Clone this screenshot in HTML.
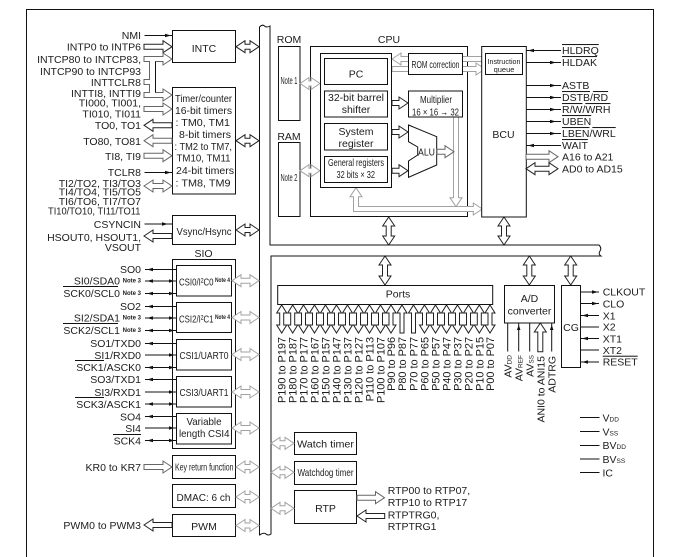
<!DOCTYPE html>
<html><head><meta charset="utf-8"><style>
html,body{margin:0;padding:0;background:#fff}
svg{display:block}
text{font-family:"Liberation Sans",sans-serif;font-size:10.5px;fill:#1c1c1c}
.e{text-anchor:end}.c{text-anchor:middle}
.n{font-size:6px;font-weight:bold;text-anchor:end}
.o{text-decoration:overline}
.p{font-size:10.9px;text-anchor:end}
.b{fill:#fff;stroke:#111;stroke-width:1}
.k{fill:#fff;stroke:#222;stroke-width:1}
.g{fill:#fff;stroke:#a2a2a2;stroke-width:1}
.m{fill:#fff;stroke:#666;stroke-width:1}
.l{stroke:#111;stroke-width:1;fill:none}
.h{fill:#111;stroke:none}
.s{font-size:6.5px}
</style></head><body>
<svg width="680" height="557" viewBox="0 0 680 557" xmlns="http://www.w3.org/2000/svg">
<rect width="680" height="557" fill="#fff"/>
<path class="l" d="M26.5 557V9.5H653.5V557"/>
<path class="b" d="M259.5 535V27q3-3 5-1t5.5 0V245H599q3 3 1 6t1 5H271V534q-3 2-5 0t-6.500 1z"/>

<!-- Left blocks -->
<rect class="b" x="172.500" y="30.500" width="63" height="32"/>
<rect class="b" x="172.500" y="87.500" width="63" height="106.500"/>
<rect class="b" x="172.500" y="215.500" width="63" height="29"/>
<rect class="b" x="172.500" y="259.500" width="63" height="189"/>
<rect class="b" x="176.500" y="265.500" width="55" height="30.500"/>
<rect class="b" x="176.500" y="302.500" width="55" height="30"/>
<rect class="b" x="176.500" y="339.500" width="55" height="30.500"/>
<rect class="b" x="176.500" y="376.500" width="55" height="30.500"/>
<rect class="b" x="176.500" y="413.500" width="55" height="30.500"/>
<rect class="b" x="172.500" y="455.500" width="63" height="23"/>
<rect class="b" x="172.500" y="484.500" width="63" height="23"/>
<rect class="b" x="172.500" y="514.500" width="63" height="22"/>

<!-- Left labels -->
<text class="e" x="141" y="39">NMI</text>
<text class="e" x="141" y="50.500">INTP0 to INTP6</text>
<text class="e" x="141" y="63">INTCP80 to INTCP83,</text>
<text class="e" x="141" y="75">INTCP90 to INTCP93</text>
<text class="e" x="141" y="86">INTTCLR8</text>
<text class="e" x="141" y="97">INTTI8, INTTI9</text>
<text class="e" x="141" y="106.500">TI000, TI001,</text>
<text class="e" x="141" y="117.500">TI010, TI011</text>
<text class="e" x="141" y="129">TO0, TO1</text>
<text class="e" x="141" y="145">TO80, TO81</text>
<text class="e" x="141" y="160">TI8, TI9</text>
<text class="e" x="141" y="176">TCLR8</text>
<text class="e" x="141" y="187">TI2/TO2, TI3/TO3</text>
<text class="e" x="141" y="195.500">TI4/TO4, TI5/TO5</text>
<text class="e" x="141" y="205">TI6/TO6, TI7/TO7</text>
<text x="48" y="214.500" textLength="92.500" lengthAdjust="spacingAndGlyphs">TI10/TO10, TI11/TO11</text>
<text class="e" x="141" y="228">CSYNCIN</text>
<text class="e" x="141" y="241">HSOUT0, HSOUT1,</text>
<text class="e" x="141" y="251">VSOUT</text>
<text class="c" x="203.500" y="257">SIO</text>
<text class="e" x="141" y="273">SO0</text>
<text class="e" x="120" y="284.500">SI0/SDA0</text><text class="n" x="141" y="282.500">Note 3</text>
<text class="e" x="120" y="297">SCK0/SCL0</text><text class="n" x="141" y="295">Note 3</text>
<text class="e" x="141" y="310">SO2</text>
<text class="e" x="120" y="321.500">SI2/SDA1</text><text class="n" x="141" y="319.500">Note 3</text>
<text class="e" x="120" y="334">SCK2/SCL1</text><text class="n" x="141" y="332">Note 3</text>
<text class="e" x="141" y="347">SO1/TXD0</text>
<text class="e" x="141" y="359">SI1/RXD0</text>
<text class="e" x="141" y="371">SCK1/ASCK0</text>
<text class="e" x="141" y="383">SO3/TXD1</text>
<text class="e" x="141" y="396">SI3/RXD1</text>
<text class="e" x="141" y="408">SCK3/ASCK1</text>
<text class="e" x="141" y="420.500">SO4</text>
<text class="e" x="141" y="432">SI4</text>
<text class="e" x="141" y="444.500">SCK4</text>
<text class="e" x="141" y="471">KR0 to KR7</text>
<text class="e" x="141" y="529">PWM0 to PWM3</text>
<path class="l" d="M63 286.500H118M63 323.500H118M75 360.500H104M75 397.500H104M113 434.500H141"/>

<!-- Left block text -->
<text class="c" x="204" y="52">INTC</text>
<text x="175" y="102" textLength="57" lengthAdjust="spacingAndGlyphs">Timer/counter</text>
<text x="175" y="114" textLength="57" lengthAdjust="spacingAndGlyphs">16-bit timers</text>
<text x="175.500" y="126" textLength="54.500" lengthAdjust="spacingAndGlyphs">: TM0, TM1</text>
<text x="179" y="138" textLength="52" lengthAdjust="spacingAndGlyphs">8-bit timers</text>
<text x="174.500" y="150" textLength="57.500" lengthAdjust="spacingAndGlyphs">: TM2 to TM7,</text>
<text x="176.500" y="161.700" textLength="54" lengthAdjust="spacingAndGlyphs">TM10, TM11</text>
<text x="176" y="174" textLength="58" lengthAdjust="spacingAndGlyphs">24-bit timers</text>
<text x="175.500" y="186.300" textLength="55" lengthAdjust="spacingAndGlyphs">: TM8, TM9</text>
<text x="176.500" y="235" textLength="55" lengthAdjust="spacingAndGlyphs">Vsync/Hsync</text>
<text x="179" y="285.500" textLength="34.500" lengthAdjust="spacingAndGlyphs">CSI0/I²C0</text><text class="n" x="230" y="282" textLength="15" lengthAdjust="spacingAndGlyphs">Note 4</text>
<text x="179" y="322.500" textLength="34.500" lengthAdjust="spacingAndGlyphs">CSI2/I²C1</text><text class="n" x="230" y="319" textLength="15" lengthAdjust="spacingAndGlyphs">Note 4</text>
<text x="179.500" y="359" textLength="49" lengthAdjust="spacingAndGlyphs">CSI1/UART0</text>
<text x="179.500" y="396" textLength="49" lengthAdjust="spacingAndGlyphs">CSI3/UART1</text>
<text x="186.500" y="425" textLength="35" lengthAdjust="spacingAndGlyphs">Variable</text>
<text x="179" y="437" textLength="50.500" lengthAdjust="spacingAndGlyphs">length CSI4</text>
<text x="175" y="470.500" textLength="58.500" lengthAdjust="spacingAndGlyphs">Key return function</text>
<text x="176.500" y="501" textLength="54" lengthAdjust="spacingAndGlyphs">DMAC: 6 ch</text>
<text class="c" x="204" y="530">PWM</text>

<!-- Left single lines -->
<path class="l" d="M144.500 35.500H172.500M144.500 172.500H172.500M144.500 224H172.500M145 269.500H176.500M145 281H176.500M145 293.500H176.500M145 306.500H176.500M145 318H176.500M145 330.500H176.500M145 343.500H176.500M145 355H176.500M145 367.500H176.500M145 379.500H176.500M145 392H176.500M145 404H176.500M145 416.500H176.500M145 428H176.500M145 440.500H176.500"/>
<path class="h" d="M171 35.500l-6-1.800v3.600zM168 224l-6-1.800v3.600zM171 172.500l-6-1.800v3.600z"/>
<path class="h" d="M147 269.500l6-1.800v3.600zM147 281l6-1.800v3.600zM147 293.500l6-1.800v3.600zM147 306.500l6-1.800v3.600zM147 318l6-1.800v3.600zM147 330.500l6-1.800v3.600zM147 343.500l6-1.800v3.600zM147 367.500l6-1.800v3.600zM147 379.500l6-1.800v3.600zM147 404l6-1.800v3.600zM147 416.500l6-1.800v3.600zM147 440.500l6-1.800v3.600z"/>
<path class="h" d="M174 281l-5-1.800v3.600zM174 293.500l-5-1.800v3.600zM174 318l-5-1.800v3.600zM174 330.500l-5-1.800v3.600zM174 355l-5-1.800v3.600zM174 367.500l-5-1.800v3.600zM174 392l-5-1.800v3.600zM174 404l-5-1.800v3.600zM174 428l-5-1.800v3.600zM174 440.500l-5-1.800v3.600z"/>

<!-- Left thick arrows -->
<path class="k" d="M144 44.200H163V40.700L172 46.700L163 52.700V49.200H144z"/>
<path class="m" d="M144 106.500H163V103L172 109L163 115V111.500H144z"/>
<path class="k" d="M172 122.800H153V119.300L144 125.300L153 131.300V127.800H172z"/>
<path class="m" d="M172 138.200H153V134.700L144 140.700L153 146.700V143.200H172z"/>
<path class="m" d="M144 153.200H163V149.700L172 155.700L163 161.700V158.200H144z"/>
<path class="m" d="M144 186l9-6v3.500h10v-3.500l9 6l-9 6v-3.500h-10v3.500z"/>
<path class="k" d="M172 233.500H153V230L144 236L153 242V238.500H172z"/>
<path class="m" d="M144 464.500H163V461L172 467L163 473V469.500H144z"/>
<path class="k" d="M172 522.500H153V519L144 525L153 531V527.500H172z"/>
<!-- fork -->
<path class="m" d="M144 56.500H163V53L172 59L163 65V61.500H155.500V92.500H163V89L172 95L163 101V97.500H144V92.500H149.500V84.500H144V79.500H149.500V61.500H144z"/>
<path class="l" d="M155.500 61.500V92.500"/>

<!-- Left-to-bus arrows -->
<path class="k" d="M236 46.700l9-6v3.500h5v-3.500l9 6l-9 6v-3.500h-5v3.500z"/>
<path class="k" d="M236 140.700l9-6v3.500h5v-3.500l9 6l-9 6v-3.500h-5v3.500z"/>
<path class="k" d="M236 230l9-6v3.500h5v-3.500l9 6l-9 6v-3.500h-5v3.500z"/>
<path class="g" d="M232 280.700l9-6v3.500h9v-3.500l9 6l-9 6v-3.500h-9v3.500z"/>
<path class="g" d="M232 317.500l9-6v3.500h9v-3.500l9 6l-9 6v-3.500h-9v3.500z"/>
<path class="g" d="M232 354.500l9-6v3.500h9v-3.500l9 6l-9 6v-3.500h-9v3.500z"/>
<path class="g" d="M232 392l9-6v3.500h9v-3.500l9 6l-9 6v-3.500h-9v3.500z"/>
<path class="g" d="M232 428l9-6v3.500h9v-3.500l9 6l-9 6v-3.500h-9v3.500z"/>
<path class="g" d="M236 467l9-6v3.500h5v-3.500l9 6l-9 6v-3.500h-5v3.500z"/>
<path class="g" d="M236 497l9-6v3.500h5v-3.500l9 6l-9 6v-3.500h-5v3.500z"/>
<path class="g" d="M236 525.500l9-6v3.500h5v-3.500l9 6l-9 6v-3.500h-5v3.500z"/>

<!-- Memory -->
<text class="c" x="289" y="43">ROM</text>
<rect class="b" x="278.500" y="46.500" width="21.500" height="74"/>
<text x="280.500" y="84" textLength="17" lengthAdjust="spacingAndGlyphs">Note 1</text>
<text class="c" x="289" y="140">RAM</text>
<rect class="b" x="278.500" y="142.500" width="21.500" height="74"/>
<text x="280.500" y="181" textLength="17" lengthAdjust="spacingAndGlyphs">Note 2</text>

<!-- CPU -->
<text class="c" x="389" y="43">CPU</text>
<rect class="b" x="310.500" y="46.500" width="157" height="170"/>
<path class="g" d="M300 83.500l9-6v3.500h2v-3.500l9 6l-9 6v-3.500h-2v3.500z"/>
<path class="g" d="M300 170.700l9-6v3.500h2v-3.500l9 6l-9 6v-3.500h-2v3.500z"/>
<!-- grey routes -->
<path class="g" d="M392 66.500H476V63L485 69L476 75V71.500H392z"/>
<path class="g" d="M461 56.500H486V61.500H461z"/>
<path class="g" d="M453.500 117V197.700H450L456 206.700L462 197.700H458.500V117z"/>
<path class="g" d="M356 187.700l6 9h-3.500v9.800H473.300V203L482.300 209L473.300 215V211.500H353.500V196.700H350z"/>
<path class="g" d="M392 59l9-6v3.500h8v5h-8v3.500z"/>

<rect class="b" x="320.500" y="53.500" width="71" height="134"/>
<rect class="b" x="324.500" y="58.500" width="63" height="26"/><text class="c" x="356" y="77.500">PC</text>
<rect class="b" x="324.500" y="91" width="63" height="26"/><text class="c" x="356" y="101">32-bit barrel</text><text class="c" x="356" y="113">shifter</text>
<rect class="b" x="324.500" y="123.500" width="63" height="26.500"/><text class="c" x="356" y="135">System</text><text class="c" x="356" y="147">register</text>
<rect class="b" x="324.500" y="156.500" width="63" height="26"/>
<text x="328" y="166" textLength="56" lengthAdjust="spacingAndGlyphs">General registers</text>
<text x="336.500" y="178" textLength="38.500" lengthAdjust="spacingAndGlyphs">32 bits × 32</text>

<rect class="b" x="408.500" y="53.500" width="54" height="21"/>
<text x="411.500" y="68" textLength="48" lengthAdjust="spacingAndGlyphs">ROM correction</text>
<rect class="b" x="408.500" y="91" width="54" height="26"/>
<text x="420" y="103" textLength="32" lengthAdjust="spacingAndGlyphs">Multiplier</text>
<text x="412" y="115.500" textLength="47" lengthAdjust="spacingAndGlyphs">16 × 16 → 32</text>
<path class="b" d="M408.500 125L436.700 136.700V165L408.500 177.300V161L417.700 155V147L408.500 141.700z"/>
<text x="418" y="155.700" textLength="17" lengthAdjust="spacingAndGlyphs">ALU</text>
<path class="k" d="M392 100.500H399V97L408 103L399 109V105.500H392z"/>
<path class="k" d="M392 129.500H399V126L408 132L399 138V134.500H392z"/>
<path class="k" d="M392 168.200H399V164.700L408 170.700L399 176.700V173.200H392z"/>
<path class="m" d="M437 149.200H445V145.700L454 151.700L445 157.700V154.200H437z"/>
<path class="k" d="M388.700 217l6 9h-3.500v10h3.500l-6 9l-6-9h3.500v-10h-3.500z"/>

<!-- BCU -->
<rect class="b" x="481.700" y="46.500" width="44.600" height="170.500"/>
<rect class="b" x="485.500" y="53.500" width="37" height="21"/>
<text x="487.500" y="64" font-size="7" style="font-size:7.500px" textLength="33" lengthAdjust="spacingAndGlyphs">Instruction</text>
<text class="c" x="504" y="72" style="font-size:7.500px">queue</text>
<text class="c" x="503.500" y="138">BCU</text>
<path class="k" d="M504 217l6 9h-3.500v10h3.500l-6 9l-6-9h3.500v-10h-3.500z"/>
<path class="l" d="M526 50.500H561M526 62.500H561M526 85.500H561M526 97.500H561M526 109.500H561M526 121.500H561M526 133.500H561M526 145.500H561"/>
<path class="h" d="M528 50.500l6-1.800v3.600zM528 145.500l6-1.800v3.600zM556 62.500l-6-1.800v3.600zM556 85.500l-6-1.800v3.600zM556 97.500l-6-1.800v3.600zM556 109.500l-6-1.800v3.600zM556 121.500l-6-1.800v3.600zM556 133.500l-6-1.800v3.600z"/>
<path class="m" d="M526 154.200H549V150.700L558 156.700L549 162.700V159.200H526z"/>
<path class="k" d="M526 168.700l9-6v3.500h14v-3.500l9 6l-9 6v-3.500h-14v3.500z"/>
<text x="562" y="54"><tspan class="o">HLDRQ</tspan></text>
<text x="562" y="66"><tspan class="o">HLDAK</tspan></text>
<text x="562" y="89">ASTB</text>
<text x="562" y="101"><tspan class="o">DSTB</tspan>/<tspan class="o">RD</tspan></text>
<text x="562" y="113"><tspan class="o">R/W</tspan>/<tspan class="o">WRH</tspan></text>
<text x="562" y="125"><tspan class="o">UBEN</tspan></text>
<text x="562" y="137"><tspan class="o">LBEN</tspan>/<tspan class="o">WRL</tspan></text>
<text x="562" y="149"><tspan class="o">WAIT</tspan></text>
<text x="562" y="160.700">A16 to A21</text>
<text x="562" y="172.700">AD0 to AD15</text>

<!-- Ports -->
<path class="k" d="M385 256l6 9h-3.500v11h3.500l-6 9l-6-9h3.500v-11h-3.500z"/>
<rect class="b" x="277.700" y="285.500" width="215" height="19"/>
<text class="c" x="398" y="297.700">Ports</text>
<defs>
<path id="pa" class="k" d="M0 305l5 8h-3v12h3l-5 8l-5-8h3v-12h-3z"/>
<path id="pu" class="k" d="M0 305l5 8h-3v20h-4v-20h-3z"/>
</defs>
<use href="#pa" x="281.700"/><use href="#pa" x="292.700"/><use href="#pa" x="303.500"/><use href="#pa" x="314.500"/><use href="#pa" x="325.500"/><use href="#pa" x="336.500"/><use href="#pa" x="347.500"/><use href="#pa" x="358.500"/><use href="#pa" x="369.500"/><use href="#pa" x="380.500"/><use href="#pa" x="391"/><use href="#pu" x="402"/><use href="#pu" x="413.500"/><use href="#pa" x="424.500"/><use href="#pa" x="435.500"/><use href="#pa" x="446.500"/><use href="#pa" x="457.500"/><use href="#pa" x="468.500"/><use href="#pa" x="479.300"/><use href="#pa" x="490"/>
<g>
<text class="p" transform="translate(285.700,337) rotate(-90)">P190 to P197</text>
<text class="p" transform="translate(296.700,337) rotate(-90)">P180 to P187</text>
<text class="p" transform="translate(307.500,337) rotate(-90)">P170 to P177</text>
<text class="p" transform="translate(318.500,337) rotate(-90)">P160 to P167</text>
<text class="p" transform="translate(329.500,337) rotate(-90)">P150 to P157</text>
<text class="p" transform="translate(340.500,337) rotate(-90)">P140 to P147</text>
<text class="p" transform="translate(351.500,337) rotate(-90)">P130 to P137</text>
<text class="p" transform="translate(362.500,337) rotate(-90)">P120 to P127</text>
<text class="p" transform="translate(373.500,337) rotate(-90)">P110 to P113</text>
<text class="p" transform="translate(384.500,337) rotate(-90)">P100 to P107</text>
<text class="p" transform="translate(395,337) rotate(-90)">P90 to P96</text>
<text class="p" transform="translate(406,337) rotate(-90)">P80 to P87</text>
<text class="p" transform="translate(417.500,337) rotate(-90)">P70 to P77</text>
<text class="p" transform="translate(428.500,337) rotate(-90)">P60 to P65</text>
<text class="p" transform="translate(439.500,337) rotate(-90)">P50 to P57</text>
<text class="p" transform="translate(450.500,337) rotate(-90)">P40 to P47</text>
<text class="p" transform="translate(461.500,337) rotate(-90)">P30 to P37</text>
<text class="p" transform="translate(472.500,337) rotate(-90)">P20 to P27</text>
<text class="p" transform="translate(483.300,337) rotate(-90)">P10 to P15</text>
<text class="p" transform="translate(494,337) rotate(-90)">P00 to P07</text>
</g>

<!-- A/D -->
<path class="k" d="M529.300 256l6 9h-3.500v11h3.500l-6 9l-6-9h3.500v-11h-3.500z"/>
<rect class="b" x="504.500" y="285.500" width="50" height="37.500"/>
<text class="c" x="529.500" y="302">A/D</text>
<text class="c" x="529.500" y="314.500">converter</text>
<path class="l" d="M507.700 323V351.500M518.700 323V351.500M529.700 323V351.500M551.700 323V351.500"/>
<path class="h" d="M518.700 325l-1.800 5h3.600zM551.700 325l-1.800 5h3.600z"/>
<path class="k" d="M540.300 323l6 9h-3.500v19.700h-5v-19.700h-3.500z"/>
<text class="e" transform="translate(511.700,355) rotate(-90)">AV<tspan class="s">DD</tspan></text>
<text class="e" transform="translate(522.700,355) rotate(-90)">AV<tspan class="s">REF</tspan></text>
<text class="e" transform="translate(533.700,355) rotate(-90)">AV<tspan class="s">SS</tspan></text>
<text class="e" transform="translate(544.300,356) rotate(-90)">ANI0 to ANI15</text>
<text class="e" transform="translate(555.700,356) rotate(-90)">ADTRG</text>

<!-- CG -->
<path class="k" d="M570.700 256l6 9h-3.500v11h3.500l-6 9l-6-9h3.500v-11h-3.500z"/>
<rect class="b" x="561.500" y="285.500" width="19" height="82"/>
<text class="c" x="571" y="331">CG</text>
<path class="l" d="M580.500 292H599M580.500 303.500H599M580.500 315.500H599M580.500 327H599M580.500 338.500H599M580.500 350H599M580.500 362H599"/>
<path class="h" d="M598 292l-6-1.800v3.600zM598 303.500l-6-1.800v3.600zM582 315.500l6-1.800v3.600zM582 338.500l6-1.800v3.600zM582 362l6-1.800v3.600z"/>
<text x="602.700" y="295.700">CLKOUT</text>
<text x="602.700" y="307.300">CLO</text>
<text x="602.700" y="319.300">X1</text>
<text x="602.700" y="330.700">X2</text>
<text x="602.700" y="342.300">XT1</text>
<text x="602.700" y="354">XT2</text>
<text x="602.700" y="365.700"><tspan class="o">RESET</tspan></text>

<!-- Power -->
<path class="l" d="M580 417.500H599.500M580 431.500H599.500M580 445.500H599.500M580 459H599.500M580 472.500H599.500"/>
<text x="602.500" y="421.300">V<tspan class="s">DD</tspan></text>
<text x="602.500" y="435.300">V<tspan class="s">SS</tspan></text>
<text x="602.500" y="449">BV<tspan class="s">DD</tspan></text>
<text x="602.500" y="463">BV<tspan class="s">SS</tspan></text>
<text x="602.500" y="476.300">IC</text>

<!-- Lower blocks -->
<rect class="b" x="294.500" y="432.500" width="62" height="22"/>
<text x="297" y="447.300" textLength="57" lengthAdjust="spacingAndGlyphs">Watch timer</text>
<rect class="b" x="294.500" y="461.500" width="62" height="23"/>
<text x="297.500" y="476" textLength="56" lengthAdjust="spacingAndGlyphs">Watchdog timer</text>
<rect class="b" x="294.500" y="490.500" width="62" height="33"/>
<text class="c" x="325.500" y="512">RTP</text>
<path class="g" d="M271 443.300l9-6v3.500h5v-3.500l9 6l-9 6v-3.500h-5v3.500z"/>
<path class="g" d="M271 472.300l9-6v3.500h5v-3.500l9 6l-9 6v-3.500h-5v3.500z"/>
<path class="g" d="M271 508.300l9-6v3.500h5v-3.500l9 6l-9 6v-3.500h-5v3.500z"/>
<path class="m" d="M357 495.200H375.500V491.700L384.500 497.700L375.500 503.700V500.200H357z"/>
<path class="k" d="M384.700 513.500H366V510L357 516L366 522V518.500H384.700z"/>
<text x="387.700" y="494">RTP00 to RTP07,</text>
<text x="387.700" y="506">RTP10 to RTP17</text>
<text x="387.700" y="518.700">RTPTRG0,</text>
<text x="387.700" y="530">RTPTRG1</text>
</svg>
</body></html>
